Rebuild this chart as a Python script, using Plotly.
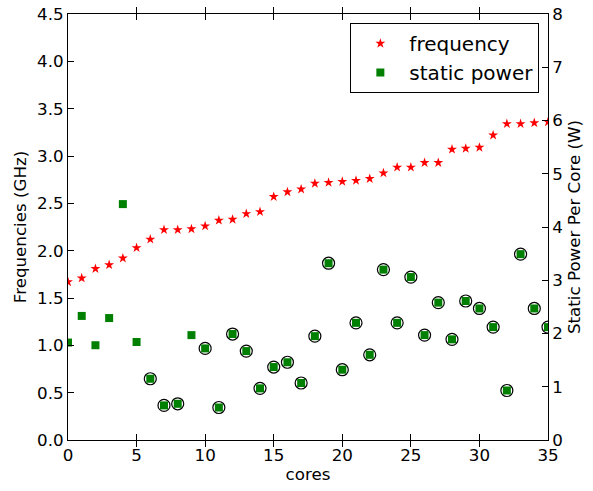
import plotly.graph_objects as go

cores = list(range(36))
frequency = [1.67, 1.71, 1.81, 1.85, 1.92, 2.03, 2.12, 2.22, 2.22, 2.23, 2.26, 2.32,
             2.33, 2.39, 2.41, 2.57, 2.62, 2.65, 2.71, 2.72, 2.73, 2.74, 2.76, 2.82,
             2.88, 2.88, 2.93, 2.93, 3.07, 3.08, 3.09, 3.22, 3.34, 3.34, 3.35, 3.36]
static_power = [1.83, 2.33, 1.78, 2.29, 4.43, 1.84, 1.15, 0.65, 0.68, 1.97, 1.72, 0.61,
                1.99, 1.67, 0.97, 1.37, 1.46, 1.07, 1.95, 3.32, 1.32, 2.20, 1.60, 3.20,
                2.20, 3.06, 1.97, 2.58, 1.89, 2.61, 2.47, 2.12, 0.93, 3.49, 2.47, 2.12]
circled = [False] * 6 + [True, True, True, False] + [True] * 26

circ_x = [c for c, m in zip(cores, circled) if m]
circ_y = [p for p, m in zip(static_power, circled) if m]

FONT = "DejaVu Sans"
fig = go.Figure()

fig.add_trace(go.Scatter(
    x=cores, y=frequency, mode="markers", name="frequency",
    marker=dict(symbol="star", size=7.5, color="#ff0000", line=dict(width=0)),
    yaxis="y"))
fig.add_trace(go.Scatter(
    x=circ_x, y=circ_y, mode="markers", showlegend=False,
    marker=dict(symbol="circle", size=12, color="white", line=dict(width=1.2, color="black")),
    yaxis="y2"))
fig.add_trace(go.Scatter(
    x=cores, y=static_power, mode="markers", name="static power",
    marker=dict(symbol="square", size=8, color="#008000", line=dict(width=0)),
    yaxis="y2"))

axis_common = dict(showgrid=False, zeroline=False, showline=True, linecolor="black",
                   linewidth=1, ticks="inside", ticklen=6, tickwidth=1, tickcolor="black",
                   automargin=False,
                   tickfont=dict(family=FONT, size=16.7, color="black"))

fig.update_layout(
    width=593, height=491,
    margin=dict(l=68, r=45, t=14, b=51),
    plot_bgcolor="white", paper_bgcolor="white",
    font=dict(family=FONT, size=16.7, color="black"),
    xaxis=dict(range=[0, 35], tick0=0, dtick=5, mirror="allticks",
               title=dict(text="cores", font=dict(family=FONT, size=16.7), standoff=4),
               **axis_common),
    yaxis=dict(range=[0, 4.5], tick0=0, dtick=0.5, tickformat=".1f",
               title=dict(text="Frequencies (GHz)", font=dict(family=FONT, size=16.7), standoff=6),
               **axis_common),
    yaxis2=dict(range=[0, 8], tick0=0, dtick=1, overlaying="y", side="right",
                title=dict(text="Static Power Per Core (W)", font=dict(family=FONT, size=16.7), standoff=6),
                **axis_common),
    legend=dict(x=0.982, y=0.979, xanchor="right", yanchor="top",
                bordercolor="black", borderwidth=1, bgcolor="white",
                font=dict(family=FONT, size=20), itemwidth=48,
                tracegroupgap=0),
    showlegend=True,
)

fig.write_html("out.html", config={"displayModeBar": False},
               post_script="document.body.style.margin='0';document.body.style.overflow='hidden';")
